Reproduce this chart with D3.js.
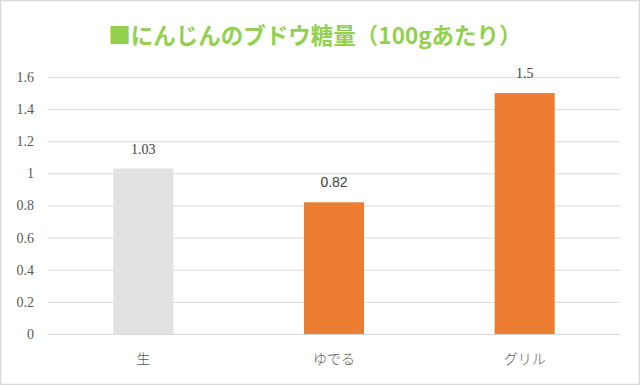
<!DOCTYPE html>
<html><head><meta charset="utf-8">
<script src="https://cdn.jsdelivr.net/npm/d3@7"></script>
<style>html,body{margin:0;padding:0;background:#fff;}
.serif{font-family:"Liberation Serif","DejaVu Serif",serif;}
</style>
</head><body>
<script>
const categories = ["生", "ゆでる", "グリル"];
const values = [1.03, 0.82, 1.5];
const barColors = ["#E2E2E2", "#ED7D31", "#ED7D31"];
const yTicks = [0, 0.2, 0.4, 0.6, 0.8, 1, 1.2, 1.4, 1.6];
const title = "■にんじんのブドウ糖量（100gあたり）";

(function () {
const W = 640, H = 385;
const svg = d3.select("body").append("svg").attr("width", W).attr("height", H);
svg.append("rect").attr("x", 0.5).attr("y", 0.5).attr("width", W - 1).attr("height", H - 1)
  .attr("fill", "#fff").attr("stroke", "#D9D9D9").attr("stroke-width", 1.5);

const mLeft = 48, mRight = 620, mTop = 77, mBottom = 334;
const x = d3.scaleBand().domain(categories).range([mLeft, mRight]).padding(0);
const y = d3.scaleLinear().domain([0, 1.6]).range([mBottom, mTop]);

const cjk = "'Noto Sans CJK JP',sans-serif";

svg.append("text").attr("x", 315).attr("y", 44).attr("text-anchor", "middle")
  .attr("font-family", "'Noto Sans CJK JP',sans-serif").attr("font-weight", "bold")
  .attr("font-size", 22.5).attr("fill", "#92D050").text(title);

const yAxis = d3.axisLeft(y).tickValues(yTicks).tickSize(-(mRight - mLeft)).tickFormat(d => String(d));
const ga = svg.append("g").attr("transform", `translate(${mLeft},0)`).call(yAxis)
  .attr("font-family", null);
ga.select(".domain").remove();
ga.selectAll(".tick line").attr("stroke", "#D9D9D9").attr("stroke-width", 1);
ga.selectAll(".tick text").attr("x", -14).attr("class", "serif").style("font-size", "14px").attr("fill", "#595959");

const bw = x.bandwidth() * 0.315;
svg.selectAll("rect.bar").data(values).enter().append("rect").attr("class", "bar")
  .attr("x", (d, i) => x(categories[i]) + x.bandwidth() / 2 - bw / 2)
  .attr("y", d => y(d)).attr("width", bw).attr("height", d => mBottom - y(d))
  .attr("fill", (d, i) => barColors[i]);

svg.selectAll("text.val").data(values).enter().append("text")
  .attr("class", (d, i) => i === 1 ? "val" : "val serif")
  .attr("x", (d, i) => x(categories[i]) + x.bandwidth() / 2)
  .attr("y", d => y(d) - 15).attr("text-anchor", "middle")
  .style("font-family", (d, i) => i === 1 ? "'Liberation Sans',Arial,sans-serif" : null)
  .style("font-size", "14px").attr("fill", "#404040").text(d => String(d));

const xAxis = d3.axisBottom(x).tickSize(0);
const gx = svg.append("g").attr("transform", `translate(0,${mBottom})`).call(xAxis);
gx.select(".domain").attr("stroke", "#D9D9D9");
gx.selectAll(".tick text").attr("dy", 0).attr("y", 30).attr("font-family", cjk)
  .attr("font-weight", 300).attr("font-size", 14).attr("fill", "#595959");
})();
</script>
</body></html>
